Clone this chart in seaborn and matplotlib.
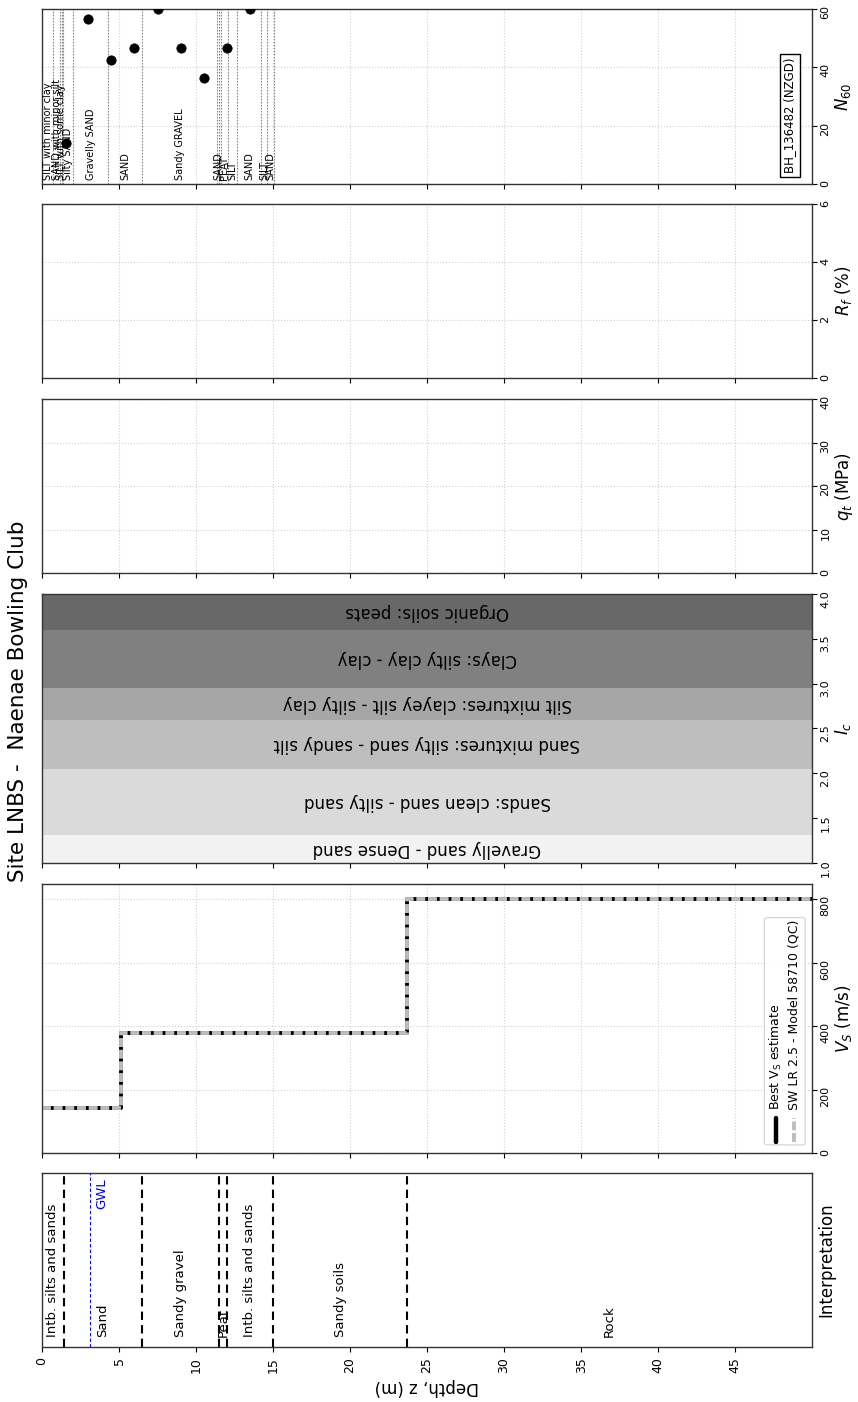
import numpy as np
import pandas as pd
import matplotlib
matplotlib.use("Agg")
import matplotlib.pyplot as plt
import seaborn as sns
from matplotlib.patches import FancyBboxPatch
from matplotlib.lines import Line2D

# ---------------- data ----------------
title = "Site LNBS -  Naenae Bowling Club"

interp_tops = [0.0, 1.4, 6.5, 11.5, 12.0, 15.0, 23.7]
interp_bots = [1.4, 6.5, 11.5, 12.0, 15.0, 23.7, 50.0]
interp_labels = ["Intb. silts and sands", "Sand", "Sandy gravel", "Peat",
                 "Intb. silts and sands", "Sandy soils", "Rock"]
gwl_depth = 3.1

vs_tops = [0.0, 5.1, 23.7]
vs_bots = [5.1, 23.7, 50.0]
vs_best = [143, 377, 802]
vs_sw = [143, 377, 802]

ic_lo = [1.0, 1.31, 2.05, 2.60, 2.95, 3.60]
ic_hi = [1.31, 2.05, 2.60, 2.95, 3.60, 4.0]
ic_names = ["Gravelly sand - Dense sand", "Sands: clean sand - silty sand",
            "Sand mixtures: silty sand - sandy silt",
            "Silt mixtures: clayey silt - silty clay",
            "Clays: silty clay - clay", "Organic soils: peats"]
ic_colors = ["#f2f2f2", "#dadada", "#bebebe", "#a6a6a6", "#808080", "#686868"]

n60_depth = [1.55, 3.0, 4.5, 6.0, 7.5, 9.0, 10.5, 12.0, 13.5]
n60_value = [14, 56.5, 42.5, 46.5, 60, 46.5, 36.5, 46.5, 60]

log_tops = [0.0, 0.73, 1.17, 1.39, 2.04, 4.27, 6.52, 11.36, 11.60, 12.05, 12.66, 14.22, 14.61]
log_bots = [0.73, 1.17, 1.32, 2.04, 4.27, 6.52, 11.36, 11.51, 12.05, 12.66, 14.22, 14.61, 15.04]
log_names = ["SILT with minor clay", "SAND with minor silt", "SILT with some clay",
             "Silty SAND", "Gravelly SAND", "SAND", "Sandy GRAVEL", "SAND", "PEAT",
             "SILT", "SAND", "SILT", "SAND"]
borehole_id = "BH_136482 (NZGD)"

depth_max = 50
depth_ticks = [0, 5, 10, 15, 20, 25, 30, 35, 40, 45]

# ---------------- figure ----------------
sns.set_style("ticks")
plt.rcParams["font.family"] = ["DejaVu Sans"]
plt.rcParams["text.color"] = "black"
plt.rcParams["axes.labelcolor"] = "black"
plt.rcParams["xtick.color"] = "black"
plt.rcParams["ytick.color"] = "black"
fig = plt.figure(figsize=(8.58, 14.02), dpi=100)

L, W = 0.049, 0.8975
ax_int = fig.add_axes([L, 0.0392, W, 0.1241])
ax_vs = fig.add_axes([L, 0.1776, W, 0.1919], sharex=ax_int)
ax_ic = fig.add_axes([L, 0.3845, W, 0.1918], sharex=ax_int)
ax_qt = fig.add_axes([L, 0.5913, W, 0.1241], sharex=ax_int)
ax_rf = fig.add_axes([L, 0.7304, W, 0.1241], sharex=ax_int)
ax_n = fig.add_axes([L, 0.8688, W, 0.1248], sharex=ax_int)
axes = [ax_int, ax_vs, ax_ic, ax_qt, ax_rf, ax_n]

grid_kw = dict(color="#d0d0d0", linestyle=":", linewidth=0.8)
for ax in axes:
    ax.set_xlim(0, depth_max)
    ax.set_xticks(depth_ticks)
    ax.yaxis.tick_right()
    ax.yaxis.set_label_position("right")
    ax.tick_params(axis="y", labelsize=8, labelrotation=90, direction="out",
                   length=3.5, pad=2.5)
    ax.tick_params(axis="x", direction="out", length=3.5)
    for sp in ax.spines.values():
        sp.set_visible(True)
        sp.set_linewidth(1.0)
        sp.set_color("#333333")
    if ax is not ax_int:
        ax.tick_params(axis="x", labelbottom=False)

ax_int.tick_params(axis="x", labelsize=9, labelrotation=90)
ax_int.set_xlabel("Depth, z (m)", fontsize=12, rotation=180, labelpad=4)

# ---- Interpretation ----
ax_int.set_ylim(0, 1)
ax_int.set_yticks([])
for b in interp_bots[:-1]:
    ax_int.axvline(b, color="black", linestyle=(0, (4, 2.5)), linewidth=1.5)
ax_int.axvline(gwl_depth, color="blue", linestyle=(0, (3, 2)), linewidth=0.8)
ax_int.text(gwl_depth + 0.35, 0.97, "GWL", color="blue", rotation=90,
            ha="left", va="top", fontsize=9.5)
for t, b, lab in zip(interp_tops, interp_bots, interp_labels):
    ax_int.text((t + b) / 2, 0.055, lab, rotation=90, ha="center", va="bottom",
                fontsize=9.5)
ax_int.set_ylabel("Interpretation", fontsize=12, rotation=90, labelpad=4)

# ---- Vs ----
def stairs(tops, bots, vals):
    xs, ys = [], []
    for t, b, v in zip(tops, bots, vals):
        xs += [t, b]
        ys += [v, v]
    return pd.DataFrame({"depth": xs, "vs": ys})

best_df = stairs(vs_tops, vs_bots, vs_best)
sw_df = stairs(vs_tops, vs_bots, vs_sw)
ax_vs.grid(True, **grid_kw)
sns.lineplot(data=best_df, x="depth", y="vs", sort=False, estimator=None,
             color="black", linewidth=2.8, ax=ax_vs)
sns.lineplot(data=sw_df, x="depth", y="vs", sort=False, estimator=None,
             color="#bdbdbd", linewidth=2.8, linestyle=(0, (2.3, 0.7)), ax=ax_vs)
ax_vs.set_ylim(0, 848)
ax_vs.set_yticks([0, 200, 400, 600, 800])
ax_vs.set_xlabel("")
ax_vs.set_ylabel("$V_S$ (m/s)", fontsize=12, rotation=90, labelpad=2)

tr = ax_vs.transAxes
ax_vs.add_patch(FancyBboxPatch((0.938, 0.03), 0.053, 0.845,
                               boxstyle="round,pad=0,rounding_size=0.006",
                               transform=tr, facecolor="white", edgecolor="#cccccc",
                               linewidth=0.8, alpha=0.9, zorder=5))
ax_vs.add_line(Line2D([0.953, 0.953], [0.041, 0.130], transform=tr, color="black",
                      linewidth=3.2, zorder=6))
ax_vs.add_line(Line2D([0.977, 0.977], [0.041, 0.130], transform=tr, color="#bdbdbd",
                      linewidth=2.8, linestyle=(0, (2.3, 0.7)), zorder=6))
ax_vs.text(0.953, 0.16, "Best V$_\\mathrm{S}$ estimate", rotation=90, ha="center",
           va="bottom", fontsize=9, transform=tr, zorder=6)
ax_vs.text(0.977, 0.16, "SW LR 2.5 - Model 58710 (QC)", rotation=90, ha="center",
           va="bottom", fontsize=9, transform=tr, zorder=6)

# ---- Ic ----
for lo, hi, name, c in zip(ic_lo, ic_hi, ic_names, ic_colors):
    ax_ic.axhspan(lo, hi, color=c, linewidth=0)
    ax_ic.text(depth_max / 2, (lo + hi) / 2, name, rotation=180, ha="center",
               va="center", fontsize=12)
ax_ic.set_ylim(1.0, 4.0)
ax_ic.set_yticks(np.arange(1.0, 4.01, 0.5))
ax_ic.set_yticklabels([f"{v:.1f}" for v in np.arange(1.0, 4.01, 0.5)])
ax_ic.set_ylabel("$I_c$", fontsize=12, rotation=90, labelpad=2)

# ---- qt ----
ax_qt.grid(True, **grid_kw)
ax_qt.set_ylim(0, 40)
ax_qt.set_yticks([0, 10, 20, 30, 40])
ax_qt.set_ylabel("$q_t$ (MPa)", fontsize=12, rotation=90, labelpad=2)

# ---- Rf ----
ax_rf.grid(True, **grid_kw)
ax_rf.set_ylim(0, 6)
ax_rf.set_yticks([0, 2, 4, 6])
ax_rf.set_ylabel("$R_f$ (%)", fontsize=12, rotation=90, labelpad=2)

# ---- N60 ----
ax_n.grid(True, **grid_kw)
bounds = sorted(set([t for t in log_tops if t > 0] + log_bots))
for b in bounds:
    ax_n.axvline(b, color="#888888", linestyle=(0, (1.5, 1.2)), linewidth=0.8)
for t, b, name in zip(log_tops, log_bots, log_names):
    ax_n.text((t + b) / 2, 0.02, name, rotation=90, ha="center", va="bottom",
              fontsize=7, transform=ax_n.get_xaxis_transform())
n_df = pd.DataFrame({"depth": n60_depth, "n60": n60_value})
sns.scatterplot(data=n_df, x="depth", y="n60", color="black", s=45,
                edgecolor="black", ax=ax_n, zorder=4)
ax_n.set_ylim(0, 60)
ax_n.set_yticks([0, 20, 40, 60])
ax_n.set_xlabel("")
ax_n.set_ylabel("$N_{60}$", fontsize=12, rotation=90, labelpad=2)
ax_n.text(0.971, 0.06, borehole_id, rotation=90, ha="center", va="bottom",
          fontsize=8.5, transform=ax_n.transAxes,
          bbox=dict(boxstyle="square,pad=0.3", facecolor="white", edgecolor="black",
                    linewidth=1.0))

for ax in axes:
    ax.set_xlim(0, depth_max)

fig.text(0.021, 0.5, title, rotation=90, ha="center", va="center", fontsize=15.5)

fig.savefig("out.png", dpi=100)
